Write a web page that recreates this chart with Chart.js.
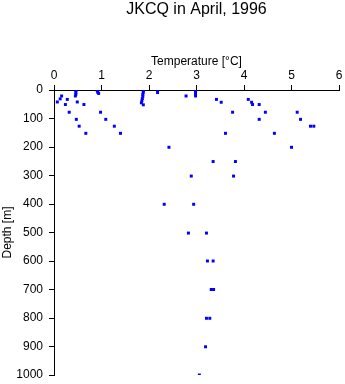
<!DOCTYPE html>
<html>
<head>
<meta charset="utf-8">
<script src="https://cdn.jsdelivr.net/npm/chart.js@4/dist/chart.umd.min.js"></script>
<style>
  html, body { margin: 0; padding: 0; background: #fff; }
  canvas { display: block; }
</style>
</head>
<body>
<canvas id="profil" width="345" height="384"></canvas>
<script>
// temperature [°C] and depth [m] of each sample, paired by index
const temperatures = [
    0.46, 0.46, 0.46, 0.45,
    0.91, 0.92, 0.94,
    1.88, 1.88, 1.87, 1.87, 1.86, 1.85, 1.84, 1.88,
    2.18, 2.18,
    2.98, 2.98, 2.98, 2.98, 2.78,
    0.07, 0.13, 0.16, 0.24, 0.28, 0.32,
    0.49, 0.63, 0.47, 0.53, 0.67,
    0.98, 1.09, 1.27, 1.40,
    3.42, 3.52, 3.76, 3.61,
    4.09, 4.16, 4.18, 4.32, 4.45, 4.32, 4.64,
    5.12, 5.19, 5.40, 5.47,
    2.42, 5.00,
    3.35, 3.82,
    2.89, 3.78,
    2.32, 2.94,
    2.83, 3.21,
    3.23, 3.35,
    3.31, 3.36,
    3.21, 3.28,
    3.19,
    3.06
];
const depths = [
    2, 9, 15, 21,
    2, 8, 12,
    2, 8, 15, 22, 30, 38, 45, 52,
    2, 9,
    2, 8, 15, 21, 21,
    42, 31, 21, 51, 33, 78,
    42, 51, 103, 127, 152,
    78, 103, 127, 152,
    33, 43, 78, 152,
    33, 43, 51, 51, 78, 103, 152,
    78, 103, 127, 127,
    201, 201,
    251, 251,
    302, 302,
    401, 401,
    502, 502,
    600, 600,
    700, 700,
    801, 801,
    901,
    1000
];
const tempTicks = [0, 1, 2, 3, 4, 5, 6];
const depthTicks = [0, 100, 200, 300, 400, 500, 600, 700, 800, 900, 1000];

const police = "'Liberation Sans', Arial, Helvetica, sans-serif";

const points = temperatures.map((t, i) => ({x: t, y: depths[i]}));

new Chart(document.getElementById('profil'), {
    type: 'scatter',
    data: {
        datasets: [{
            label: 'JKCQ',
            data: points,
            pointStyle: 'rect',
            pointRadius: 2.1,
            pointBorderWidth: 0,
            backgroundColor: '#0000ff',
            borderColor: '#0000ff'
        }]
    },
    options: {
        responsive: false,
        animation: false,
        devicePixelRatio: 1,
        layout: {padding: {top: 0, left: 0, right: 6, bottom: 9}},
        plugins: {
            legend: {display: false},
            tooltip: {enabled: false},
            title: {
                display: true,
                fullSize: false,   // centred over the plot, not the canvas
                text: 'JKCQ in April, 1996',
                color: '#000',
                font: {family: police, size: 16, weight: 'normal', lineHeight: 1.2},
                padding: {top: 0, bottom: 34.8}
            }
        },
        scales: {
            x: {
                type: 'linear',
                position: 'top',
                min: tempTicks[0],
                max: tempTicks[tempTicks.length - 1],
                afterBuildTicks: s => { s.ticks = tempTicks.map(v => ({value: v})); },
                afterFit: s => { s.height = 36; s.paddingLeft = 0; s.paddingRight = 0; },
                ticks: {color: '#000', font: {family: police, size: 12}, padding: 2, maxRotation: 0},
                grid: {drawOnChartArea: false, drawTicks: true, tickLength: 5, color: '#000'},
                border: {display: true, color: '#000', width: 1},
                title: {display: true, text: 'Temperature [°C]', color: '#000',
                        font: {family: police, size: 12}, padding: {top: 0, bottom: 0}}
            },
            y: {
                type: 'linear',
                reverse: true,
                min: depthTicks[0],
                max: depthTicks[depthTicks.length - 1],
                afterBuildTicks: s => { s.ticks = depthTicks.map(v => ({value: v})); },
                afterFit: s => { s.width = 54; s.paddingTop = 0; s.paddingBottom = 0; },
                ticks: {color: '#000', font: {family: police, size: 12}, padding: 6,
                        callback: v => String(v)},
                grid: {drawOnChartArea: false, drawTicks: true, tickLength: 5, color: '#000'},
                border: {display: true, color: '#000', width: 1},
                title: {display: true, text: 'Depth [m]', color: '#000',
                        font: {family: police, size: 12}, padding: {top: 0, bottom: 0}}
            }
        }
    }
});
</script>
</body>
</html>
